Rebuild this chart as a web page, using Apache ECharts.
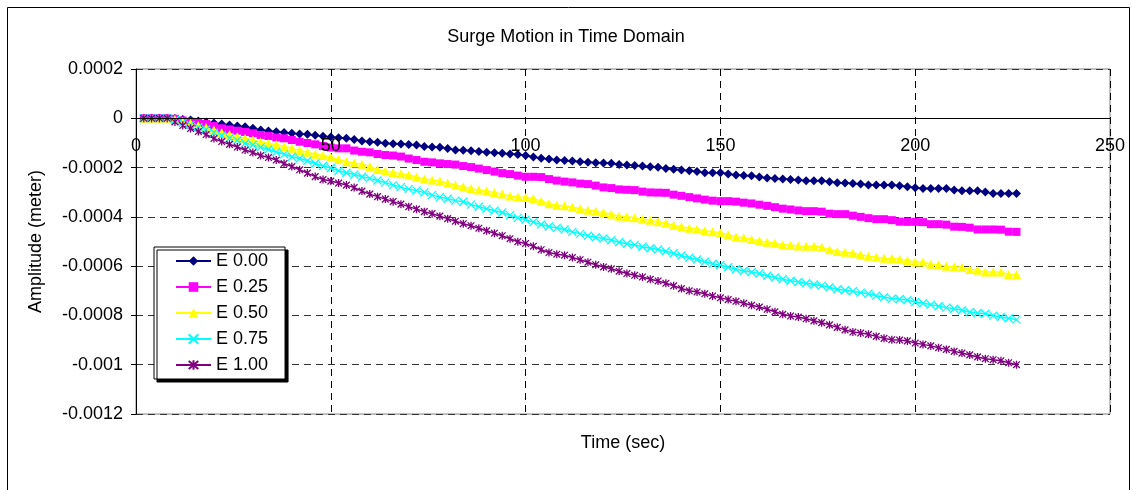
<!DOCTYPE html>
<html>
<head>
<meta charset="utf-8">
<title>Surge Motion in Time Domain</title>
<script src="https://cdn.jsdelivr.net/npm/echarts@6/dist/echarts.min.js"></script>
<style>
  html, body { margin: 0; padding: 0; background: #fff; }
  #chart { width: 1132px; height: 490px; }
</style>
</head>
<body>
<div id="chart"></div>
<script>
// Sample times (s)
const time = [
  2, 4, 6, 8, 10, 12, 14, 16, 18, 20,
  22, 24, 26, 28, 30, 32, 34, 36, 38, 40,
  42, 44, 46, 48, 50, 52, 54, 56, 58, 60,
  62, 64, 66, 68, 70, 72, 74, 76, 78, 80,
  82, 84, 86, 88, 90, 92, 94, 96, 98, 100,
  102, 104, 106, 108, 110, 112, 114, 116, 118, 120,
  122, 124, 126, 128, 130, 132, 134, 136, 138, 140,
  142, 144, 146, 148, 150, 152, 154, 156, 158, 160,
  162, 164, 166, 168, 170, 172, 174, 176, 178, 180,
  182, 184, 186, 188, 190, 192, 194, 196, 198, 200,
  202, 204, 206, 208, 210, 212, 214, 216, 218, 220,
  222, 224, 226
];

// Surge amplitude per case, in units of 1e-5 m
const ampE000 = [
  0, 0, 0, 0, -0.08, -0.49, -0.69, -1.10, -1.50, -1.91,
  -2.32, -2.72, -3.13, -3.41, -4.07, -4.76, -5.16, -5.45, -5.77, -6.10,
  -6.38, -6.50, -6.91, -7.32, -7.60, -7.89, -8.13, -8.62, -9.23, -9.51,
  -9.76, -10.16, -10.33, -10.45, -10.65, -10.85, -11.46, -11.67, -11.79, -12.28,
  -12.89, -13.01, -13.17, -13.50, -13.82, -14.02, -14.23, -14.51, -14.72, -15.12,
  -15.73, -16.26, -16.54, -16.95, -17.15, -17.36, -17.64, -17.89, -18.05, -18.17,
  -18.29, -18.78, -18.98, -19.19, -19.39, -19.67, -19.92, -20.33, -20.73, -21.02,
  -21.30, -21.63, -22.11, -22.11, -22.11, -22.64, -23.05, -23.17, -23.33, -23.86,
  -24.27, -24.39, -24.67, -24.80, -25.08, -25.37, -25.37, -25.37, -25.77, -26.18,
  -26.30, -26.42, -26.71, -27.11, -27.11, -27.11, -27.11, -27.40, -27.80, -28.21,
  -28.46, -28.46, -28.46, -28.46, -29.15, -29.43, -29.43, -29.43, -29.96, -30.49,
  -30.49, -30.49, -30.49
];
const ampE025 = [
  0, 0, 0, 0, -0.20, -0.89, -1.38, -1.91, -2.32, -3.13,
  -4.07, -4.55, -5.04, -5.57, -6.10, -6.79, -7.20, -7.80, -8.13, -8.82,
  -9.51, -10.04, -10.57, -11.26, -11.87, -12.20, -12.20, -13.09, -13.58, -13.82,
  -14.51, -14.92, -15.12, -15.53, -16.34, -16.95, -17.64, -17.89, -18.29, -18.58,
  -18.78, -19.39, -19.80, -20.41, -21.02, -21.63, -22.24, -22.64, -23.25, -23.74,
  -23.74, -23.86, -24.67, -25.28, -25.69, -26.02, -26.50, -26.71, -27.32, -28.05,
  -28.33, -28.86, -29.02, -29.15, -29.76, -30.08, -30.16, -30.24, -30.98, -31.46,
  -31.99, -32.52, -33.01, -33.42, -33.62, -33.62, -33.82, -34.23, -34.56, -35.05,
  -35.54, -36.07, -36.67, -37.00, -37.40, -37.68, -37.68, -37.89, -38.70, -38.90,
  -38.90, -39.51, -40.00, -40.53, -40.94, -40.94, -41.34, -41.95, -42.03, -42.03,
  -42.15, -42.97, -42.97, -43.17, -43.98, -44.06, -44.39, -45.12, -45.12, -45.12,
  -45.20, -46.02, -46.10
];
const ampE050 = [
  0, 0, 0, 0, -0.49, -1.30, -2.03, -2.93, -3.74, -4.76,
  -5.77, -6.59, -7.40, -8.13, -8.82, -9.63, -10.24, -10.65, -11.46, -12.20,
  -13.09, -13.82, -14.63, -15.12, -15.73, -16.75, -17.64, -18.17, -18.70, -19.59,
  -20.81, -21.42, -21.95, -22.52, -23.05, -23.86, -24.67, -25.08, -25.49, -26.30,
  -27.11, -27.80, -28.46, -29.15, -29.55, -30.16, -30.77, -31.58, -31.99, -32.19,
  -32.60, -33.62, -34.64, -35.25, -35.45, -36.06, -36.67, -37.28, -37.68, -38.21,
  -38.90, -39.72, -40.00, -40.41, -40.94, -41.34, -41.95, -42.56, -43.37, -44.06,
  -44.59, -45.00, -45.61, -46.02, -46.42, -47.24, -48.13, -48.45, -49.19, -49.67,
  -50.28, -50.69, -51.30, -51.50, -51.79, -51.91, -51.91, -52.32, -53.33, -54.06,
  -54.35, -54.75, -55.36, -55.97, -56.38, -56.79, -56.91, -57.19, -57.72, -58.29,
  -58.29, -59.23, -59.43, -60.04, -60.24, -60.45, -61.38, -61.67, -62.36, -62.36,
  -62.36, -63.41, -63.41
];
const ampE075 = [
  0, 0, 0, 0, -0.69, -1.71, -2.72, -3.66, -4.55, -5.77,
  -6.99, -8.13, -9.02, -10.16, -10.85, -11.79, -12.68, -13.70, -14.63, -15.61,
  -16.34, -17.24, -18.37, -19.39, -20.20, -21.30, -22.11, -22.85, -23.74, -24.39,
  -25.28, -26.10, -27.11, -27.93, -28.74, -29.35, -30.08, -31.18, -31.99, -32.68,
  -33.41, -33.90, -35.04, -35.93, -36.75, -37.48, -38.21, -39.31, -40.41, -41.14,
  -42.15, -43.09, -43.90, -44.47, -45.12, -46.10, -46.91, -47.64, -48.25, -48.78,
  -49.47, -50.28, -50.89, -51.38, -52.11, -52.72, -53.25, -53.94, -54.75, -55.69,
  -56.58, -57.32, -58.21, -59.02, -59.51, -60.45, -61.26, -61.87, -62.48, -63.01,
  -63.90, -64.63, -65.31, -65.94, -66.42, -66.95, -67.48, -67.89, -68.58, -69.39,
  -69.80, -70.20, -70.73, -71.22, -72.03, -72.64, -73.17, -73.33, -73.86, -74.55,
  -75.08, -75.61, -76.30, -76.83, -77.31, -77.92, -78.74, -79.02, -79.27, -80.08,
  -80.65, -81.18, -81.71
];
const ampE100 = [
  0, 0, 0, 0, -1.50, -2.93, -4.15, -5.37, -6.59, -8.21,
  -9.43, -10.57, -11.67, -12.89, -13.90, -15.12, -15.93, -16.95, -18.37, -19.59,
  -20.89, -22.24, -23.66, -24.88, -25.49, -26.30, -27.11, -28.13, -29.55, -30.77,
  -31.79, -32.80, -33.82, -34.84, -35.85, -36.87, -37.89, -38.70, -39.72, -40.73,
  -41.75, -42.77, -43.58, -44.59, -45.61, -46.63, -47.64, -48.86, -50.08, -50.81,
  -51.91, -53.33, -54.47, -55.16, -55.57, -56.50, -57.40, -58.41, -59.43, -60.32,
  -61.06, -62.07, -63.01, -63.70, -64.39, -65.32, -66.02, -66.95, -67.97, -69.11,
  -70.00, -70.49, -71.22, -72.11, -72.84, -73.58, -74.27, -75.08, -75.89, -76.58,
  -77.52, -78.54, -79.55, -80.24, -80.65, -81.38, -82.20, -82.93, -83.82, -84.84,
  -85.86, -86.75, -87.15, -87.68, -88.50, -89.31, -89.84, -90.00, -90.33, -91.22,
  -91.75, -92.36, -93.09, -93.78, -94.59, -95.28, -96.02, -96.83, -97.56, -97.97,
  -98.37, -99.19, -100.00
];
const AMP_UNIT = 1e-5; // metres per stored unit

const seriesNames = ['E 0.00', 'E 0.25', 'E 0.50', 'E 0.75', 'E 1.00'];
const seriesAmps = [ampE000, ampE025, ampE050, ampE075, ampE100];
const seriesColors = ['#000080', '#FF00FF', '#FFFF00', '#00FFFF', '#800080'];
const seriesSymbols = [
  'diamond',
  'rect',
  'triangle',
  'path://M0,0L10,10M10,0L0,10',
  'path://M0,0L10,10M10,0L0,10M5,-1L5,11'
];
const seriesSymbolSizes = [9, 8, 9, 8, 8];
const strokedMarker = [false, false, false, true, true];

// Axis ranges
const timeMin = 0, timeMax = 250, timeStep = 50;
const ampMin = -0.0012, ampMax = 0.0002, ampStep = 0.0002;

const FONT = '"Liberation Sans", Arial, sans-serif';
const FS = 18;

// Plot area (px)
const plotLeft = 136, plotRight = 22, plotTop = 69, plotBottom = 76;
const chartH = 490;
// y pixel of the zero line, used to hang the time axis on it
const zeroY = plotTop + (ampMax - 0) / (ampMax - ampMin) * (chartH - plotTop - plotBottom);

const chart = echarts.init(document.getElementById('chart'), null, { renderer: 'canvas' });

const series = seriesNames.map((name, k) => ({
  name: name,
  type: 'line',
  xAxisIndex: 0,
  yAxisIndex: 0,
  data: time.map((t, i) => [t, seriesAmps[k][i] * AMP_UNIT]),
  symbol: seriesSymbols[k],
  symbolSize: seriesSymbolSizes[k],
  symbolKeepAspect: true,
  showSymbol: true,
  showAllSymbol: true,
  lineStyle: { color: seriesColors[k], width: 1.5 },
  itemStyle: strokedMarker[k]
    ? { color: seriesColors[k], borderColor: seriesColors[k], borderWidth: 1.3 }
    : { color: seriesColors[k], borderWidth: 0 },
  emphasis: { disabled: true },
  animation: false
}));

chart.setOption({
  animation: false,
  backgroundColor: '#fff',
  textStyle: { fontFamily: FONT },
  title: {
    text: 'Surge Motion in Time Domain',
    left: 'center',
    top: 23,
    textStyle: { fontFamily: FONT, fontSize: FS, fontWeight: 'normal', color: '#000' }
  },
  grid: [
    {
      left: plotLeft, right: plotRight, top: plotTop, bottom: plotBottom,
      show: true, borderColor: '#808080', borderWidth: 1, backgroundColor: '#fff'
    },
    {
      // strip whose lower edge is the zero line; carries the time axis
      left: plotLeft, right: plotRight, top: plotTop, bottom: chartH - zeroY,
      show: false
    }
  ],
  legend: {
    orient: 'vertical',
    left: 154, top: 247,
    padding: [4, 17, 4, 21],
    itemWidth: 35, itemHeight: 12, itemGap: 6,
    backgroundColor: '#fff',
    borderColor: '#000', borderWidth: 1, borderRadius: 0,
    shadowColor: '#000', shadowBlur: 0, shadowOffsetX: 3, shadowOffsetY: 3,
    textStyle: { fontFamily: FONT, fontSize: FS, color: '#000', lineHeight: 20 },
    selectedMode: false,
    data: seriesNames
  },
  xAxis: [
    {
      gridIndex: 0,
      type: 'value',
      min: timeMin, max: timeMax, interval: timeStep,
      axisLine: { show: false },
      axisTick: { show: false },
      axisLabel: { show: false },
      splitLine: { show: true, lineStyle: { color: '#000', type: [7, 5], width: 1 } }
    },
    {
      gridIndex: 1,
      type: 'value',
      position: 'bottom',
      z: 5,
      min: timeMin, max: timeMax, interval: timeStep,
      axisLine: { show: true, onZero: false, lineStyle: { color: '#000', width: 1 } },
      axisTick: { show: true, inside: false, length: 5, lineStyle: { color: '#000' } },
      axisLabel: { fontFamily: FONT, fontSize: FS, color: '#000', margin: 19 },
      splitLine: { show: false }
    }
  ],
  yAxis: [
    {
      gridIndex: 0,
      type: 'value',
      min: ampMin, max: ampMax, interval: ampStep,
      name: 'Amplitude (meter)',
      nameLocation: 'middle',
      nameRotate: 90,
      nameGap: 91,
      nameTextStyle: { fontFamily: FONT, fontSize: FS, color: '#000' },
      axisLine: { show: true, onZero: false, lineStyle: { color: '#000', width: 1 } },
      axisTick: { show: true, inside: false, length: 5, lineStyle: { color: '#000' } },
      axisLabel: {
        fontFamily: FONT, fontSize: FS, color: '#000', margin: 13,
        formatter: v => String(+v.toFixed(4))
      },
      splitLine: { show: true, lineStyle: { color: '#333', type: [7, 5], width: 1 } }
    },
    {
      gridIndex: 1,
      type: 'value',
      show: false
    }
  ],
  graphic: [
    {
      type: 'rect', silent: true, z: -1,
      shape: { x: 7.5, y: 7.5, width: 1122, height: 520 },
      style: { fill: null, stroke: '#000', lineWidth: 1 }
    },
    {
      type: 'text', silent: true,
      x: 623, y: 443,
      style: {
        text: 'Time (sec)', fill: '#000',
        font: FS + 'px "Liberation Sans", Arial, sans-serif',
        align: 'center', verticalAlign: 'middle'
      }
    }
  ],
  series: series
});
</script>
</body>
</html>
